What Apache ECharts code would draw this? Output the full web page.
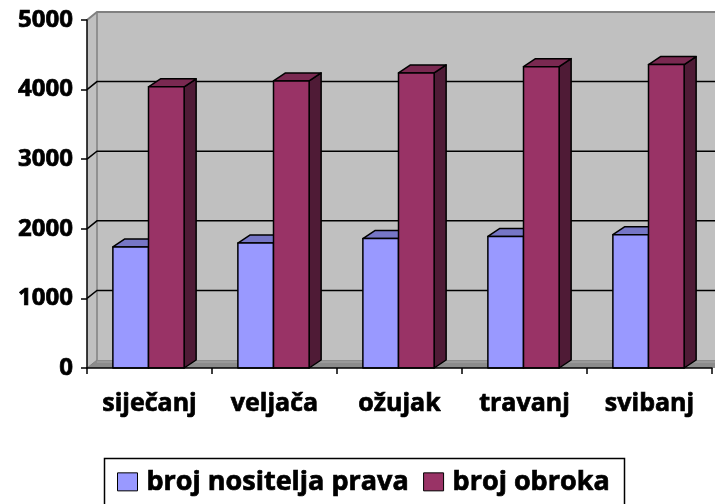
<!DOCTYPE html>
<html style="height:100%;">
<head>
    <meta charset="utf-8">
    <script src="https://cdn.jsdelivr.net/npm/echarts@6/dist/echarts.min.js"></script>
</head>
<body style="height:100%;margin:0;background:#fff;">
    <div id="main" style="width:715px;height:504px;"></div>
<script>
    // podaci
    var mjeseci = ['siječanj', 'veljača', 'ožujak', 'travanj', 'svibanj'];
    var brojNositelja = [1740, 1795, 1860, 1890, 1915];
    var brojObroka = [4040, 4125, 4240, 4330, 4360];
    var yGridVrijednosti = [1000, 2000, 3000, 4000];

    var FONT = 'Open Sans';
    var DX = 10, DY = -8;      // pomak zida (3D dubina)
    var BDX = 12, BDY = -8;    // pomak stupca

    function zidovi(params, api) {
        var cs = params.coordSys;
        var x = cs.x, y = cs.y, w = cs.width, h = cs.height;
        var y0 = y + h;
        var children = [
            // stražnji zid
            { type: 'rect', shape: { x: x + DX, y: y + DY, width: w + 20, height: h },
              style: { fill: '#C0C0C0' } },
            // lijevi zid
            { type: 'polygon', shape: { points: [[x, y], [x + DX, y + DY], [x + DX, y0 + DY], [x, y0]] },
              style: { fill: '#C0C0C0' } },
            // pod
            { type: 'polygon', shape: { points: [[x, y0], [x + DX, y0 + DY], [x + w + 30, y0 + DY], [x + w + 30, y0]] },
              style: { fill: '#8C8C8C' } },
            { type: 'line', shape: { x1: x + DX, y1: y0 + DY + 2, x2: x + w + 30, y2: y0 + DY + 2 },
              style: { stroke: '#A8A8A8', lineWidth: 1 } },
            { type: 'line', shape: { x1: x, y1: y0, x2: x + DX, y2: y0 + DY },
              style: { stroke: '#808080', lineWidth: 1 } },
            // rubovi zida
            { type: 'polyline', shape: { points: [[x, y], [x + DX, y + DY], [x + w + 30, y + DY]] },
              style: { stroke: '#808080', lineWidth: 2, fill: null } },
            { type: 'line', shape: { x1: x + DX, y1: y + DY, x2: x + DX, y2: y0 + DY },
              style: { stroke: '#808080', lineWidth: 1.5 } }
        ];
        yGridVrijednosti.forEach(function (v) {
            var yy = api.coord([0, v])[1];
            children.push({ type: 'polyline',
                shape: { points: [[x, yy], [x + DX, yy + DY], [x + w + 30, yy + DY]] },
                style: { stroke: '#000', lineWidth: 1.5, fill: null } });
        });
        return { type: 'group', children: children };
    }

    function stupac(strana, boje) {
        return function (params, api) {
            var i = api.value(0), v = api.value(1);
            var vrh = api.coord([i, v]);
            var dno = api.coord([i, 0]);
            var bw = api.size([1, 0])[0] * 0.285;
            var c = vrh[0] - 1;
            var x0 = strana < 0 ? c - bw : c;
            var ty = vrh[1], by = dno[1];
            var st = { stroke: '#000', lineWidth: 1.5, lineJoin: 'round' };
            return {
                type: 'group',
                children: [
                    { type: 'polygon',
                      shape: { points: [[x0 + bw, ty], [x0 + bw + BDX, ty + BDY], [x0 + bw + BDX, by + BDY], [x0 + bw, by]] },
                      style: Object.assign({ fill: boje[2] }, st) },
                    { type: 'polygon',
                      shape: { points: [[x0, ty], [x0 + BDX, ty + BDY], [x0 + bw + BDX, ty + BDY], [x0 + bw, ty]] },
                      style: Object.assign({ fill: boje[1] }, st) },
                    { type: 'rect', shape: { x: x0, y: ty, width: bw, height: by - ty },
                      style: Object.assign({ fill: boje[0] }, st) }
                ]
            };
        };
    }

    var plava = ['#9999FF', '#7676C6', '#5C5CA8'];
    var crvena = ['#993366', '#7A2951', '#4F1B36'];

    // malo deblji tekst (kao Calibri bold u originalu)
    var deblje = { textBorderColor: '#000', textBorderWidth: 0.7 };

    var option = {
        backgroundColor: '#FFFFFF',
        animation: false,
        textStyle: { fontFamily: FONT },
        grid: { left: 87, right: 3, top: 20, bottom: 136 },
        xAxis: {
            type: 'category',
            data: mjeseci,
            z: 10,
            axisLine: { lineStyle: { color: '#000', width: 1.5 } },
            axisTick: { show: true, interval: 0, length: 6, lineStyle: { color: '#000', width: 1.5 } },
            axisLabel: Object.assign({ interval: 0, hideOverlap: false, color: '#000', fontFamily: FONT,
                         fontWeight: 'bold', fontSize: 25, margin: 23 }, deblje),
            splitLine: { show: false }
        },
        yAxis: {
            type: 'value',
            min: 0, max: 5000, interval: 1000,
            z: 10,
            axisLine: { show: true, lineStyle: { color: '#000', width: 1.5 } },
            axisTick: { show: true, length: 6, lineStyle: { color: '#000', width: 1.5 } },
            axisLabel: Object.assign({ color: '#000', fontFamily: FONT, fontWeight: 'bold', fontSize: 24, margin: 14,
                         formatter: function (v) { return String(v); } }, deblje),
            splitLine: { show: false }
        },
        legend: {
            left: 112, top: 463,
            icon: 'rect',
            itemWidth: 20, itemHeight: 18,
            itemGap: 14,
            itemStyle: { borderColor: '#000', borderWidth: 1 },
            textStyle: Object.assign({ color: '#000', fontFamily: FONT, fontWeight: 'bold', fontSize: 27,
                         padding: [0, 0, 0, 4] }, deblje),
            data: ['broj nositelja prava', 'broj obroka']
        },
        graphic: [{
            type: 'rect', left: 102, top: 456,
            shape: { width: 520, height: 70 },
            style: { fill: 'none', stroke: '#000', lineWidth: 1.5 }
        }],
        series: [
            { type: 'custom', name: 'zid', renderItem: zidovi, data: [[0, 0]], silent: true, z: 1 },
            { type: 'custom', name: 'broj nositelja prava', renderItem: stupac(-1, plava),
              itemStyle: { color: plava[0] }, z: 3,
              data: brojNositelja.map(function (v, i) { return [i, v]; }) },
            { type: 'custom', name: 'broj obroka', renderItem: stupac(1, crvena),
              itemStyle: { color: crvena[0] }, z: 4,
              data: brojObroka.map(function (v, i) { return [i, v]; }) }
        ]
    };

    var chart = echarts.init(document.getElementById('main'));
    chart.setOption(option);
</script>
</body>
</html>
